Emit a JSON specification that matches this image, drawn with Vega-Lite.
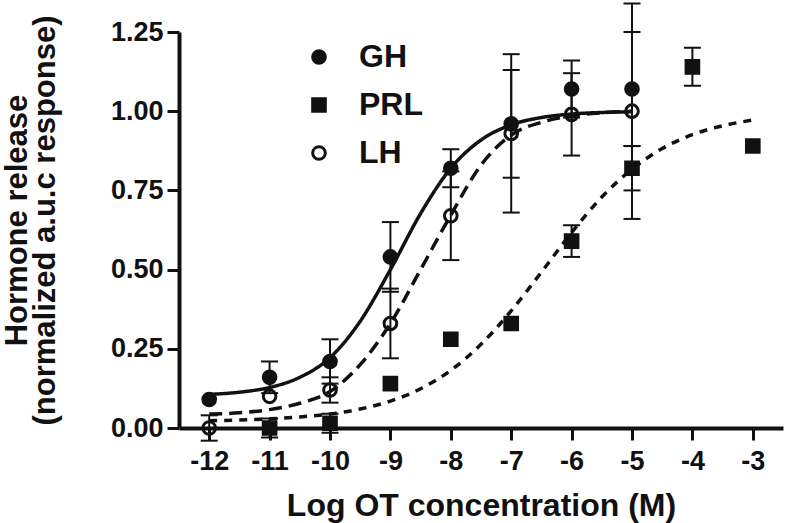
{
  "$schema": "https://vega.github.io/schema/vega-lite/v6.json",
  "width": 604,
  "height": 396,
  "autosize": "none",
  "padding": {"left": 179, "top": 32, "right": 5, "bottom": 95},
  "background": "white",
  "config": {
    "view": {"stroke": null},
    "font": "Liberation Sans",
    "axis": {"grid": false}
  },
  "datasets": {
    "curves": [
      {"fit": "GH fit", "x": -12, "y": 0.106}, {"fit": "GH fit", "x": -11.5, "y": 0.113}, {"fit": "GH fit", "x": -11, "y": 0.128},
      {"fit": "GH fit", "x": -10.5, "y": 0.16}, {"fit": "GH fit", "x": -10, "y": 0.222}, {"fit": "GH fit", "x": -9.5, "y": 0.337},
      {"fit": "GH fit", "x": -9, "y": 0.5}, {"fit": "GH fit", "x": -8.5, "y": 0.677}, {"fit": "GH fit", "x": -8, "y": 0.82},
      {"fit": "GH fit", "x": -7.5, "y": 0.909}, {"fit": "GH fit", "x": -7, "y": 0.957}, {"fit": "GH fit", "x": -6.5, "y": 0.98},
      {"fit": "GH fit", "x": -6, "y": 0.991}, {"fit": "GH fit", "x": -5.5, "y": 0.996}, {"fit": "GH fit", "x": -5, "y": 0.998},
      {"fit": "LH fit", "x": -12, "y": 0.044}, {"fit": "LH fit", "x": -11.5, "y": 0.048}, {"fit": "LH fit", "x": -11, "y": 0.058},
      {"fit": "LH fit", "x": -10.5, "y": 0.078}, {"fit": "LH fit", "x": -10, "y": 0.115}, {"fit": "LH fit", "x": -9.5, "y": 0.2},
      {"fit": "LH fit", "x": -9, "y": 0.33}, {"fit": "LH fit", "x": -8.5, "y": 0.5}, {"fit": "LH fit", "x": -8, "y": 0.672},
      {"fit": "LH fit", "x": -7.5, "y": 0.83}, {"fit": "LH fit", "x": -7, "y": 0.925}, {"fit": "LH fit", "x": -6.5, "y": 0.965},
      {"fit": "LH fit", "x": -6, "y": 0.985}, {"fit": "LH fit", "x": -5.5, "y": 0.995}, {"fit": "LH fit", "x": -5, "y": 1.0},
      {"fit": "PRL fit", "x": -12, "y": 0.023}, {"fit": "PRL fit", "x": -11.5, "y": 0.025}, {"fit": "PRL fit", "x": -11, "y": 0.029},
      {"fit": "PRL fit", "x": -10.5, "y": 0.035}, {"fit": "PRL fit", "x": -10, "y": 0.044}, {"fit": "PRL fit", "x": -9.5, "y": 0.06},
      {"fit": "PRL fit", "x": -9, "y": 0.085}, {"fit": "PRL fit", "x": -8.5, "y": 0.124}, {"fit": "PRL fit", "x": -8, "y": 0.182},
      {"fit": "PRL fit", "x": -7.5, "y": 0.264}, {"fit": "PRL fit", "x": -7, "y": 0.37}, {"fit": "PRL fit", "x": -6.5, "y": 0.492},
      {"fit": "PRL fit", "x": -6, "y": 0.617}, {"fit": "PRL fit", "x": -5.5, "y": 0.729}, {"fit": "PRL fit", "x": -5, "y": 0.817},
      {"fit": "PRL fit", "x": -4.5, "y": 0.882}, {"fit": "PRL fit", "x": -4, "y": 0.926}, {"fit": "PRL fit", "x": -3.5, "y": 0.954},
      {"fit": "PRL fit", "x": -3, "y": 0.972}
    ],
    "errors": [
      {"series": "GH", "x": -11, "lo": 0.11, "hi": 0.21},
      {"series": "GH", "x": -10, "lo": 0.14, "hi": 0.28},
      {"series": "GH", "x": -9, "lo": 0.43, "hi": 0.65},
      {"series": "GH", "x": -8, "lo": 0.76, "hi": 0.88},
      {"series": "GH", "x": -7, "lo": 0.79, "hi": 1.13},
      {"series": "GH", "x": -6, "lo": 0.98, "hi": 1.16},
      {"series": "GH", "x": -5, "lo": 0.89, "hi": 1.25},
      {"series": "PRL", "x": -11, "lo": -0.03, "hi": 0.03},
      {"series": "PRL", "x": -10, "lo": -0.015, "hi": 0.045},
      {"series": "PRL", "x": -6, "lo": 0.54, "hi": 0.64},
      {"series": "PRL", "x": -5, "lo": 0.75, "hi": 0.89},
      {"series": "PRL", "x": -4, "lo": 1.08, "hi": 1.2},
      {"series": "LH", "x": -12, "lo": -0.04, "hi": 0.04},
      {"series": "LH", "x": -10, "lo": 0.08, "hi": 0.16},
      {"series": "LH", "x": -9, "lo": 0.22, "hi": 0.44},
      {"series": "LH", "x": -8, "lo": 0.53, "hi": 0.81},
      {"series": "LH", "x": -7, "lo": 0.68, "hi": 1.18},
      {"series": "LH", "x": -6, "lo": 0.86, "hi": 1.12},
      {"series": "LH", "x": -5, "lo": 0.66, "hi": 1.34}
    ],
    "points": [
      {"series": "GH", "x": -12, "y": 0.09}, {"series": "GH", "x": -11, "y": 0.16}, {"series": "GH", "x": -10, "y": 0.21},
      {"series": "GH", "x": -9, "y": 0.54}, {"series": "GH", "x": -8, "y": 0.82}, {"series": "GH", "x": -7, "y": 0.96},
      {"series": "GH", "x": -6, "y": 1.07}, {"series": "GH", "x": -5, "y": 1.07},
      {"series": "PRL", "x": -11, "y": 0.0}, {"series": "PRL", "x": -10, "y": 0.015}, {"series": "PRL", "x": -9, "y": 0.14},
      {"series": "PRL", "x": -8, "y": 0.28}, {"series": "PRL", "x": -7, "y": 0.33}, {"series": "PRL", "x": -6, "y": 0.59},
      {"series": "PRL", "x": -5, "y": 0.82}, {"series": "PRL", "x": -4, "y": 1.14}, {"series": "PRL", "x": -3, "y": 0.89},
      {"series": "LH", "x": -12, "y": 0.0}, {"series": "LH", "x": -11, "y": 0.1}, {"series": "LH", "x": -10, "y": 0.12},
      {"series": "LH", "x": -9, "y": 0.33}, {"series": "LH", "x": -8, "y": 0.67}, {"series": "LH", "x": -7, "y": 0.93},
      {"series": "LH", "x": -6, "y": 0.99}, {"series": "LH", "x": -5, "y": 1.0}
    ]
  },
  "layer": [
    {
      "data": {"name": "errors"},
      "mark": {"type": "rule", "strokeWidth": 2, "color": "#111"},
      "encoding": {
        "x": {"field": "x", "type": "quantitative", "scale": {"domain": [-12.5, -2.5], "nice": false, "zero": false},
          "axis": {
            "title": "Log OT concentration (M)",
            "values": [-12, -11, -10, -9, -8, -7, -6, -5, -4, -3],
            "labelExpr": "'' + datum.value",
            "labelOverlap": false,
            "domainWidth": 4, "domainColor": "#111",
            "tickWidth": 3, "tickColor": "#111", "tickSize": 12,
            "labelFontSize": 27, "labelFontWeight": "bold", "labelColor": "#111", "labelPadding": 8,
            "titleFontSize": 32, "titleFontWeight": "bold", "titleColor": "#111",
            "titleY": 87, "titleBaseline": "alphabetic"
          }
        },
        "y": {"field": "lo", "type": "quantitative", "scale": {"domain": [0, 1.25], "nice": false, "zero": false},
          "axis": {
            "title": ["Hormone release", "(normalized a.u.c response)"],
            "values": [0, 0.25, 0.5, 0.75, 1, 1.25],
            "format": ".2f",
            "labelOverlap": false,
            "domainWidth": 4, "domainColor": "#111",
            "tickWidth": 3, "tickColor": "#111", "tickSize": 12,
            "labelFontSize": 27, "labelFontWeight": "bold", "labelColor": "#111", "labelPadding": 4,
            "titleFontSize": 31, "titleFontWeight": "bold", "titleColor": "#111",
            "titleAngle": 270, "titleAlign": "center", "titleBaseline": "alphabetic",
            "titleLineHeight": 28, "titleX": -153, "titleY": 188
          }
        },
        "y2": {"field": "hi"}
      }
    },
    {
      "data": {"name": "errors"},
      "mark": {"type": "tick", "orient": "horizontal", "size": 17, "thickness": 2, "color": "#111", "opacity": 1},
      "encoding": {
        "x": {"field": "x", "type": "quantitative", "scale": {"domain": [-12.5, -2.5], "nice": false, "zero": false}},
        "y": {"field": "lo", "type": "quantitative", "scale": {"domain": [0, 1.25], "nice": false, "zero": false}}
      }
    },
    {
      "data": {"name": "errors"},
      "mark": {"type": "tick", "orient": "horizontal", "size": 17, "thickness": 2, "color": "#111", "opacity": 1},
      "encoding": {
        "x": {"field": "x", "type": "quantitative", "scale": {"domain": [-12.5, -2.5], "nice": false, "zero": false}},
        "y": {"field": "hi", "type": "quantitative", "scale": {"domain": [0, 1.25], "nice": false, "zero": false}}
      }
    },
    {
      "data": {"name": "curves"},
      "mark": {"type": "line", "interpolate": "monotone", "strokeWidth": 3.5, "color": "#111"},
      "encoding": {
        "x": {"field": "x", "type": "quantitative", "scale": {"domain": [-12.5, -2.5], "nice": false, "zero": false}},
        "y": {"field": "y", "type": "quantitative", "scale": {"domain": [0, 1.25], "nice": false, "zero": false}},
        "strokeDash": {"field": "fit", "type": "nominal",
          "scale": {"domain": ["GH fit", "PRL fit", "LH fit"], "range": [[1, 0], [8, 7], [13, 7]]}, "legend": null}
      }
    },
    {
      "data": {"name": "points"},
      "mark": {"type": "point", "filled": true, "stroke": "#111", "strokeWidth": 3, "opacity": 1, "size": 160},
      "encoding": {
        "x": {"field": "x", "type": "quantitative", "scale": {"domain": [-12.5, -2.5], "nice": false, "zero": false}},
        "y": {"field": "y", "type": "quantitative", "scale": {"domain": [0, 1.25], "nice": false, "zero": false}},
        "shape": {"field": "series", "type": "nominal",
          "scale": {"domain": ["GH", "PRL", "LH"], "range": ["circle", "square", "circle"]},
          "legend": {"title": null, "orient": "none", "legendX": 124, "legendY": 9, "padding": 0,
            "labelFontSize": 32, "labelFontWeight": "bold", "labelColor": "#111", "labelOffset": 24,
            "rowPadding": 16, "symbolStrokeWidth": 3, "symbolStrokeColor": "#111", "symbolSize": 160,
            "encoding": {"symbols": {"stroke": {"value": "#111"}, "strokeWidth": {"value": 3}}}}},
        "fill": {"field": "series", "type": "nominal",
          "scale": {"domain": ["GH", "PRL", "LH"], "range": ["#111111", "#111111", "transparent"]},
          "legend": {"title": null, "orient": "none", "legendX": 124, "legendY": 9, "padding": 0,
            "labelFontSize": 32, "labelFontWeight": "bold", "labelColor": "#111", "labelOffset": 24,
            "rowPadding": 16, "symbolStrokeWidth": 3, "symbolStrokeColor": "#111", "symbolSize": 160,
            "encoding": {"symbols": {"stroke": {"value": "#111"}, "strokeWidth": {"value": 3}}}}}
      }
    }
  ]
}
